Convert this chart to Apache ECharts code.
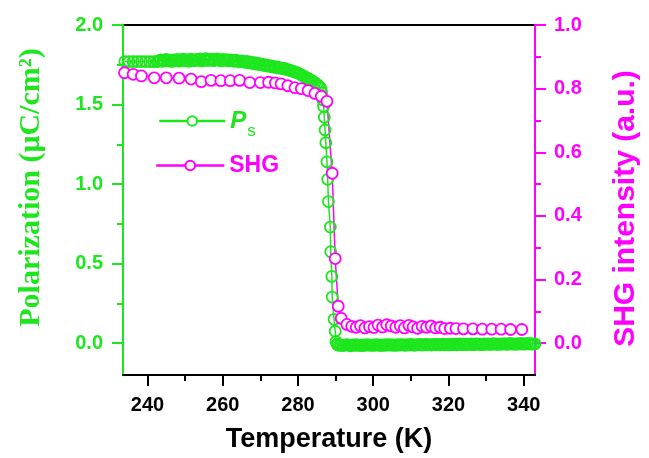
<!DOCTYPE html>
<html>
<head>
<meta charset="utf-8">
<script src="https://cdn.jsdelivr.net/npm/echarts/dist/echarts.min.js"></script>
<style>
html,body{margin:0;padding:0;background:#fff;}
#chart{width:649px;height:458px;}
</style>
</head>
<body>
<div id="chart"></div>
<script>
// ---------- data ----------
// Ps (left axis, uC/cm^2)
const psT = [
  234.0,235.1,236.2,237.3,238.4,239.5,240.6,241.7,242.6,
  243,243.5,244,244.5,245,245.5,246,246.5,247,247.5,248,248.5,249,249.5,250,250.5,251,251.5,252,252.5,
  253,253.5,254,254.5,255,255.5,256,256.5,257,257.5,258,258.5,259,259.5,260,260.5,261,261.5,262,262.5,
  263,263.5,264,264.5,265,265.5,266,266.5,267,267.5,268,268.5,269,269.5,270,270.5,271,271.5,272,272.5,
  273,273.5,274,274.5,275,275.5,276,276.5,277,277.5,278,278.5,279,279.5,280,280.5,281,281.5,282,282.5,
  283,283.5,284,284.5,285,285.5,286,
  286.3,286.6,286.8,287.0,287.2,287.4,287.7,287.9,288.1,288.6,288.7,289.0,289.1,289.6,289.9,290.1,290.4,
  290.5,291,291.5,292,292.5,293,293.5,294,294.5,295,295.5,296,296.5,297,297.5,298,298.5,299,299.5,300,
  300.5,301,301.5,302,302.5,303,303.5,304,304.5,305,305.5,306,306.5,307,307.5,308,308.5,309,309.5,310,
  310.5,311,311.5,312,312.5,313,313.5,314,314.5,315,315.5,316,316.5,317,317.5,318,318.5,319,319.5,320,
  320.5,321,321.5,322,322.5,323,323.5,324,324.5,325,325.5,326,326.5,327,327.5,328,328.5,329,329.5,330,
  330.5,331,331.5,332,332.5,333,333.5,334,334.5,335,335.5,336,336.5,337,337.5,338,338.5,339,339.5,340,
  340.5,341,341.5,342,342.5,343
];
const psV = [
  1.77,1.77,1.77,1.77,1.77,1.77,1.77,1.77,1.77,
  1.775,1.780,1.772,1.778,1.783,1.774,1.779,1.770,1.781,1.776,1.784,1.773,1.779,1.785,1.776,1.781,1.772,1.786,1.779,1.775,
  1.784,1.778,1.787,1.774,1.782,1.788,1.777,1.783,1.785,1.776,1.781,1.787,1.779,1.774,1.784,1.778,1.782,1.775,1.780,1.776,
  1.772,1.779,1.774,1.768,1.775,1.770,1.765,1.771,1.762,1.766,1.758,1.763,1.754,1.758,1.750,1.754,1.745,1.749,1.741,1.744,
  1.737,1.740,1.733,1.736,1.729,1.731,1.725,1.727,1.721,1.718,1.714,1.710,1.707,1.702,1.698,1.692,1.685,1.679,1.672,1.666,
  1.659,1.652,1.645,1.637,1.628,1.618,1.606,
  1.575,1.53,1.49,1.42,1.34,1.26,1.14,1.03,0.89,0.73,0.575,0.42,0.29,0.15,0.075,0.01,-0.005,
  -0.010,-0.014,-0.011,-0.015,-0.012,-0.009,-0.013,-0.016,-0.011,-0.013,-0.010,-0.014,-0.012,-0.015,-0.011,-0.013,-0.009,-0.012,-0.014,-0.011,
  -0.013,-0.010,-0.012,-0.015,-0.011,-0.013,-0.010,-0.012,-0.009,-0.013,-0.011,-0.014,-0.010,-0.012,-0.009,-0.011,-0.013,-0.010,-0.012,-0.008,
  -0.011,-0.013,-0.009,-0.011,-0.008,-0.012,-0.010,-0.007,-0.011,-0.009,-0.012,-0.008,-0.010,-0.007,-0.011,-0.009,-0.006,-0.010,-0.008,-0.011,
  -0.007,-0.009,-0.006,-0.010,-0.008,-0.005,-0.009,-0.007,-0.010,-0.006,-0.008,-0.005,-0.009,-0.007,-0.004,-0.008,-0.006,-0.009,-0.005,-0.007,
  -0.004,-0.008,-0.006,-0.003,-0.007,-0.005,-0.008,-0.004,-0.006,-0.003,-0.007,-0.005,-0.002,-0.006,-0.004,-0.007,-0.003,-0.005,-0.002,-0.006,
  -0.004,-0.001,-0.005,-0.003,-0.006,-0.004
];
// SHG (right axis, a.u.)
const shgT = [233.9,236.2,238.4,241.8,245.0,248.4,251.6,254.3,256.9,259.5,262.0,264.5,267.2,270.0,272.2,274.0,275.5,277.3,279.2,
  280.9,282.7,284.5,286.2,287.7,289.1,289.9,290.7,291.5,293.0,294.3,295.5,296.6,297.8,299.0,300.2,301.3,302.5,303.6,304.8,306.0,
  307.2,308.3,309.5,310.6,311.8,313.0,314.2,315.4,316.6,317.8,319.0,320.5,322.0,324.0,326.5,329.0,331.5,334.0,336.5,339.5];
const shgV = [0.850,0.845,0.840,0.834,0.834,0.833,0.830,0.822,0.826,0.825,0.825,0.826,0.819,0.819,0.820,0.818,0.815,0.809,0.803,
  0.800,0.794,0.785,0.776,0.760,0.534,0.266,0.116,0.078,0.059,0.053,0.050,0.055,0.048,0.052,0.049,0.057,0.051,0.058,0.054,0.050,
  0.055,0.048,0.056,0.051,0.047,0.053,0.050,0.054,0.048,0.050,0.046,0.047,0.046,0.045,0.045,0.044,0.044,0.044,0.043,0.043];
// ticks
const xMajor = [240,260,280,300,320,340];
const xMinor = [250,270,290,310,330];
const yLMajor = [0,0.5,1.0,1.5,2.0];
const yLMinor = [0.25,0.75,1.25,1.75];
const yRMajor = [0,0.2,0.4,0.6,0.8,1.0];
const yRMinor = [0.1,0.3,0.5,0.7,0.9];
const xRange = [233.5, 343];
const yLRange = [-0.2, 2.0];
const yRRange = [-0.1, 1.0];

// ---------- style ----------
const GREEN = '#1ee61e';
const MAG = '#ff00ff';
const SANS = '"Liberation Sans", Arial, sans-serif';
const SERIF = '"Liberation Serif", "Times New Roman", serif';

const psData = psT.map((t,i)=>[t,psV[i]]);
const shgData = shgT.map((t,i)=>[t,shgV[i]]);

function minorAxis(pos, range, vals, color){
  return {
    type:'value', position:pos, min:range[0], max:range[1],
    axisLine:{show:false, onZero:false},
    axisTick:{show:true, inside:false, length:6, customValues:vals, lineStyle:{color:color,width:2}},
    axisLabel:{show:false}, splitLine:{show:false}
  };
}

const chart = echarts.init(document.getElementById('chart'), null, {renderer:'canvas'});
chart.setOption({
  animation:false,
  backgroundColor:'#fff',
  grid:{left:123,right:111,top:25,bottom:82,show:true,borderColor:'#000',borderWidth:2,backgroundColor:'transparent'},
  xAxis:[
    {type:'value', position:'bottom', min:xRange[0], max:xRange[1],
     axisLine:{show:true,onZero:false,lineStyle:{color:'#000',width:2}},
     axisTick:{show:true,length:11,customValues:xMajor,lineStyle:{color:'#000',width:2}},
     axisLabel:{show:true,customValues:xMajor,margin:20,color:'#000',fontSize:20,fontWeight:'bold',fontFamily:SANS,
       formatter:v=>String(Math.round(v))},
     splitLine:{show:false},
     name:'Temperature (K)', nameLocation:'middle', nameGap:51,
     nameTextStyle:{color:'#000',fontSize:27,fontWeight:'bold',fontFamily:SANS}},
    minorAxis('bottom', xRange, xMinor, '#000')
  ],
  yAxis:[
    {type:'value', position:'left', min:yLRange[0], max:yLRange[1],
     axisLine:{show:true,onZero:false,lineStyle:{color:GREEN,width:2}},
     axisTick:{show:true,length:11,customValues:yLMajor,lineStyle:{color:GREEN,width:2}},
     axisLabel:{show:true,customValues:yLMajor,margin:20,color:GREEN,fontSize:20,fontWeight:'bold',fontFamily:SANS,
       formatter:v=>v.toFixed(1)},
     splitLine:{show:false},
     name:'Polarization (\u03bcC/cm\u00b2)', nameLocation:'middle', nameGap:77, nameRotate:90,
     nameTextStyle:{color:GREEN,fontSize:30,fontWeight:'bold',fontFamily:SERIF,padding:[0,0,0,25]}},
    {type:'value', position:'right', min:yRRange[0], max:yRRange[1],
     axisLine:{show:true,onZero:false,lineStyle:{color:MAG,width:2}},
     axisTick:{show:true,length:11,customValues:yRMajor,lineStyle:{color:MAG,width:2}},
     axisLabel:{show:true,customValues:yRMajor,margin:19,color:MAG,fontSize:20,fontWeight:'bold',fontFamily:SANS,
       formatter:v=>v.toFixed(1)},
     splitLine:{show:false},
     name:'SHG intensity (a.u.)', nameLocation:'middle', nameGap:76, nameRotate:90,
     nameTextStyle:{color:MAG,fontSize:30,fontWeight:'bold',fontFamily:SANS,padding:[0,17,0,0]}},
    minorAxis('left', yLRange, yLMinor, GREEN),
    minorAxis('right', yRRange, yRMinor, MAG)
  ],
  legend:[
    {data:['Ps'], left:153, top:104, orient:'vertical', itemWidth:66, itemHeight:12, itemGap:0,
     itemStyle:{color:'#fff',borderColor:GREEN,borderWidth:2}, lineStyle:{width:2.5,color:GREEN},
     textStyle:{color:GREEN, rich:{
       p:{fontSize:24,fontWeight:'bold',fontStyle:'italic',fontFamily:SANS,color:GREEN},
       s:{fontSize:17,fontFamily:SANS,color:GREEN,padding:[20,0,0,1]}}},
     formatter:()=>'{p|P}{s|s}'},
    {data:['SHG'], left:150, top:149, orient:'vertical', itemWidth:68, itemHeight:12, itemGap:0,
     itemStyle:{color:'#fff',borderColor:MAG,borderWidth:2}, lineStyle:{width:2.5,color:MAG},
     textStyle:{color:MAG,fontSize:23,fontWeight:'bold',fontFamily:SANS}}
  ],
  series:[
    {name:'Ps', type:'line', xAxisIndex:0, yAxisIndex:0, data:psData,
     symbol:'circle', symbolSize:11, showAllSymbol:true,
     lineStyle:{color:GREEN,width:1.5}, itemStyle:{color:'transparent',borderColor:GREEN,borderWidth:1.8},
     emphasis:{disabled:true}},
    {name:'SHG', type:'line', xAxisIndex:0, yAxisIndex:1, data:shgData,
     symbol:'circle', symbolSize:11, showAllSymbol:true,
     lineStyle:{color:MAG,width:1.5}, itemStyle:{color:'#fff',borderColor:MAG,borderWidth:1.8},
     emphasis:{disabled:true}}
  ]
});
</script>
</body>
</html>
